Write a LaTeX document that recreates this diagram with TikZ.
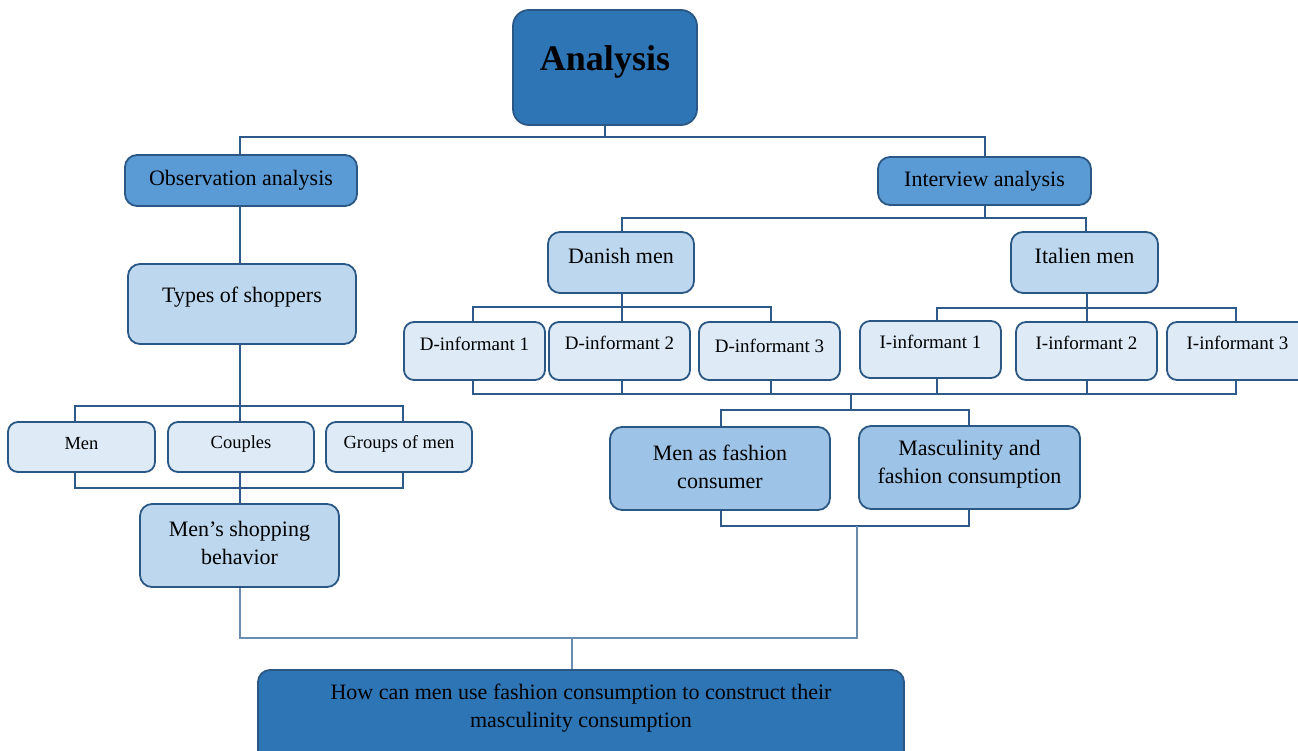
\documentclass[tikz,border=0pt]{standalone}
\usepackage{fontspec}
\setmainfont{Liberation Serif}
\usetikzlibrary{backgrounds}
\definecolor{cDark}{HTML}{2E75B6}
\definecolor{cMed}{HTML}{5B9BD5}
\definecolor{cLight}{HTML}{BDD7EE}
\definecolor{cVLight}{HTML}{DEEBF7}
\definecolor{cFash}{HTML}{9DC3E6}
\definecolor{cBord}{HTML}{2A5784}
\definecolor{cLine}{HTML}{2D5A8A}
\definecolor{cLineB}{HTML}{6A8CB0}
\newcommand\bx[6]{\node[#1, minimum width={#5-#3}, minimum height={#6-#4}] (#2) at ({(#3+#5)/2},{(#4+#6)/2}) {};}
\begin{document}
\begin{tikzpicture}[x=1pt,y=-1pt,
  box/.style={draw=cBord, line width=1.8pt, rounded corners=12pt, inner sep=0pt, outer sep=0pt},
  dk/.style={box, fill=cDark},
  md/.style={box, fill=cMed},
  lt/.style={box, fill=cLight},
  vl/.style={box, fill=cVLight, rounded corners=10pt},
  fs/.style={box, fill=cFash},
  txt/.style={inner sep=0pt, align=center, text=black, font=\fontsize{22}{27.5}\selectfont},
  stxt/.style={txt, font=\fontsize{19}{23}\selectfont},
  xtxt/.style={txt, font=\fontsize{18.5}{22}\selectfont},
  ln/.style={draw=cLine, line width=1.8pt},
  lnb/.style={draw=cLineB, line width=1.6pt}]
\useasboundingbox (0,0) rectangle (1298,751);
\clip (0,0) rectangle (1298,751);

% boxes
\bx{dk, rounded corners=16pt}{ana}{513}{10}{697}{125}
\bx{md}{obs}{125}{155}{357}{206}
\bx{md}{int}{878}{157}{1091}{205}
\bx{lt}{typ}{128}{264}{356}{344}
\bx{vl}{men}{8}{422}{155}{472}
\bx{vl}{cou}{168}{422}{314}{472}
\bx{vl}{grp}{326}{422}{472}{472}
\bx{lt}{msb}{140}{504}{339}{587}
\bx{lt}{dan}{548}{232}{694}{293}
\bx{lt}{ita}{1011}{232}{1158}{293}
\bx{vl}{di1}{404}{322}{545}{380}
\bx{vl}{di2}{549}{322}{690}{380}
\bx{vl}{di3}{699}{322}{840}{380}
\bx{vl}{ii1}{860}{321}{1001}{378}
\bx{vl}{ii2}{1016}{322}{1157}{380}
\bx{vl}{ii3}{1167}{322}{1308}{380}
\bx{fs}{mfc}{610}{427}{830}{510}
\bx{fs}{mas}{859}{426}{1080}{509}
\bx{dk}{fin}{258}{670}{904}{775}

% texts
\node[txt, font=\fontsize{36}{40}\selectfont\bfseries] (anaT) at (605,62) {Analysis};
\node[txt] (obsT) at (241,180) {Observation analysis};
\node[txt] (intT) at (984.5,181) {Interview analysis};
\node[txt] (typT) at (242,297) {Types of shoppers};
\node[txt] (danT) at (621,256) {Danish men};
\node[txt] (itaT) at (1084.5,256) {Italien men};
\node[stxt] (di1T) at (474.5,344) {D-informant 1};
\node[stxt] (di2T) at (619.5,343) {D-informant 2};
\node[stxt] (di3T) at (769.5,346) {D-informant 3};
\node[stxt] (ii1T) at (930.5,342) {I-informant 1};
\node[stxt] (ii2T) at (1086.5,343) {I-informant 2};
\node[stxt] (ii3T) at (1237.5,343) {I-informant 3};
\node[xtxt] (menT) at (81.5,444) {Men};
\node[xtxt] (couT) at (241,444) {Couples};
\node[xtxt] (grpT) at (399,444) {Groups of men};
\node[txt] (msbT) at (239.5,543) {Men’s shopping\\behavior};
\node[txt] (mfcT) at (720,467) {Men as fashion\\consumer};
\node[txt] (masT) at (969.5,464) {Masculinity and\\fashion consumption};
\node[txt] (finT) at (581,708) {How can men use fashion consumption to construct their\\masculinity consumption};

% connectors
\coordinate (b1) at (605,137);
\coordinate (b2) at (240,406);
\coordinate (b3) at (240,488);
\coordinate (c75) at (75,0);
\coordinate (c403) at (403,0);
\coordinate (b5) at (985,218);
\coordinate (c622) at (622,0);
\coordinate (c1086) at (1086,0);
\coordinate (bd) at (622,307);
\coordinate (c473) at (473,0);
\coordinate (c771) at (771,0);
\coordinate (bi) at (1087,308);
\coordinate (c937) at (937,0);
\coordinate (c1236) at (1236,0);
\coordinate (bbL) at (473,394);
\coordinate (bbR) at (1236,394);
\coordinate (bb) at (851,394);
\coordinate (bm) at (851,410);
\coordinate (c721) at (721,0);
\coordinate (c969) at (969,0);
\coordinate (b6) at (857,526);
\coordinate (b4) at (572,638);

\begin{scope}[on background layer]
\fill[white] (0,0) rectangle (1298,751);
\draw[ln] (ana.south) -- (b1);
\draw[ln] (obs.north -| b2) |- (b1) -| (int.north -| b5);
\draw[ln] (obs.south -| b2) -- (typ.north -| b2);
\draw[ln] (typ.south -| b2) -- (b2);
\draw[ln] (men.north -| c75) |- (b2) -| (grp.north -| c403);
\draw[ln] (b2) -- (cou.north -| b2);
\draw[ln] (men.south -| c75) |- (b3) -| (grp.south -| c403);
\draw[ln] (cou.south -| b3) -- (msb.north -| b3);
\draw[ln] (int.south -| b5) -- (b5);
\draw[ln] (dan.north -| c622) |- (b5) -| (ita.north -| c1086);
\draw[ln] (dan.south -| bd) -- (bd);
\draw[ln] (di1.north -| c473) |- (bd) -| (di3.north -| c771);
\draw[ln] (bd) -- (di2.north -| bd);
\draw[ln] (ita.south -| bi) -- (bi);
\draw[ln] (ii1.north -| c937) |- (bi) -| (ii3.north -| c1236);
\draw[ln] (bi) -- (ii2.north -| bi);
\draw[ln] (di1.south -| bbL) -- (bbL) -- (bbR) -- (ii3.south -| bbR);
\draw[ln] (di2.south -| c622) -- (c622 |- bb);
\draw[ln] (di3.south -| c771) -- (c771 |- bb);
\draw[ln] (ii1.south -| c937) -- (c937 |- bb);
\draw[ln] (ii2.south -| bi) -- (bi |- bb);
\draw[ln] (bb) -- (bm);
\draw[ln] (mfc.north -| c721) |- (bm) -| (mas.north -| c969);
\draw[ln] (mfc.south -| c721) |- (b6) -| (mas.south -| c969);
\draw[lnb] (msb.south -| b3) |- (b4) -| (b6);
\draw[lnb] (b4) -- (fin.north -| b4);
\end{scope}
\end{tikzpicture}
\end{document}
